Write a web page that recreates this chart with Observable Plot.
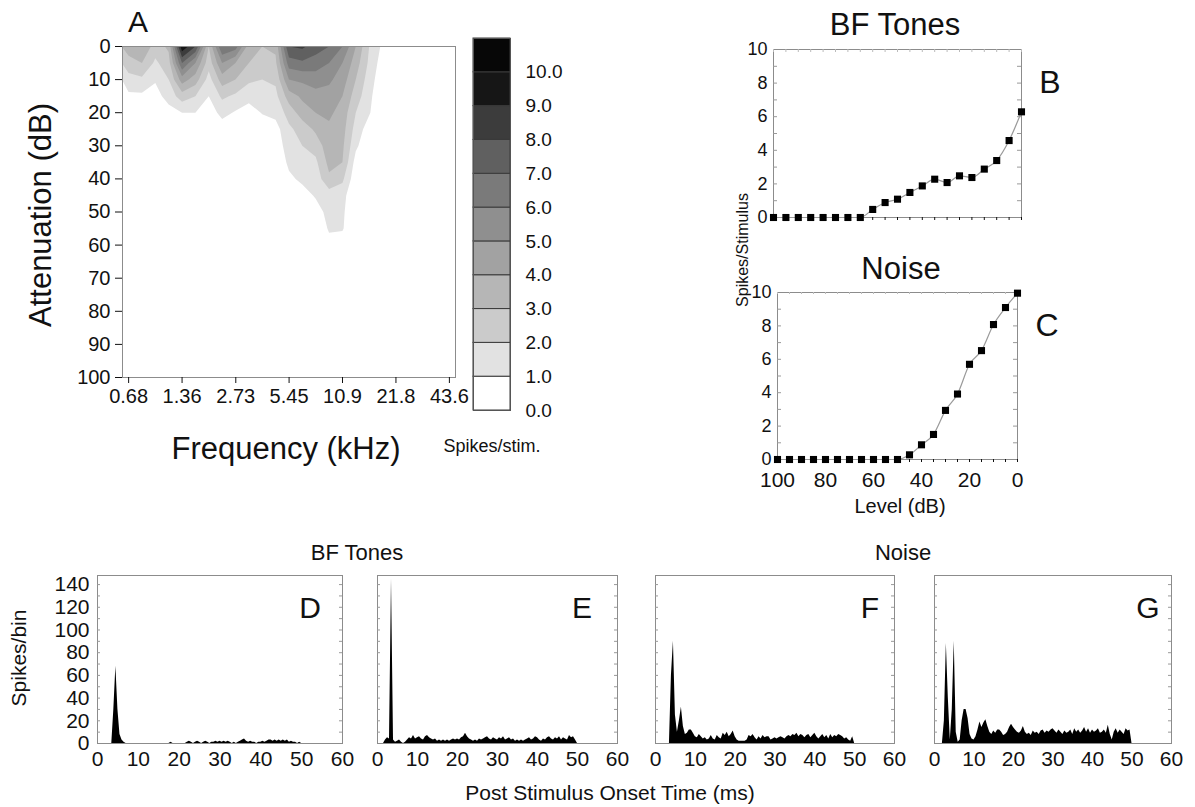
<!DOCTYPE html>
<html><head><meta charset="utf-8">
<script src="https://cdn.jsdelivr.net/npm/d3@7"></script>
<script src="https://cdn.jsdelivr.net/npm/@observablehq/plot@0.6"></script>
<style>
body{margin:0;background:#fff;}
#root{position:relative;width:1195px;height:807px;overflow:hidden;font-family:'Liberation Sans',Arial,Helvetica,sans-serif;color:#111;background:#fff;}
.t{position:absolute;white-space:nowrap;line-height:1;}
</style></head><body><div id="root"></div>
<script>
// ---------------- DATA ----------------
// Panel A: response area (spikes/stimulus) on a quarter-octave x 5 dB grid
const gridFreqs = [0.68,0.81,0.96,1.14,1.36,1.62,1.92,2.29,2.72,3.23,3.85,4.57,5.44,6.47,7.69,9.15,10.88,12.94,15.39,18.3,21.76];
const gridAtten = [0,5,10,15,20,25,30,35,40,45,50,55,60,65];
const tuning = [
 [3.5,4.0,2.5,3.2,9.8,8.0,3.0,7.0,6.5,3.5,3.0,3.2,8.0,8.2,7.5,7.0,6.0,4.0,2.0,0.8,0],
 [2.6,3.0,1.8,2.6,7.0,5.0,2.4,5.0,4.0,3.0,2.6,2.8,6.5,6.8,6.5,6.0,5.0,3.5,1.8,0.5,0],
 [1.6,1.8,1.1,2.0,4.5,3.5,1.6,3.5,3.0,2.2,2.0,2.2,5.0,5.2,5.5,5.2,4.5,3.0,1.5,0.3,0],
 [0.8,0.8,0.6,1.4,2.5,2.0,1.0,2.2,1.8,1.3,1.5,1.7,3.5,4.2,4.6,4.6,4.0,2.5,1.3,0,0],
 [0.4,0.3,0.2,0.6,1.0,1.0,0.5,1.3,0.9,0.6,1.05,1.3,2.4,3.5,4.0,4.2,3.6,2.0,1.1,0,0],
 [0,0,0,0.2,0.4,0.3,0.2,0.5,0.3,0.2,0.5,0.6,1.8,2.4,3.2,3.8,3.4,1.6,0.5,0,0],
 [0,0,0,0,0,0,0,0,0,0,0.3,0.4,1.5,2.0,2.4,3.6,3.2,1.2,0.2,0,0],
 [0,0,0,0,0,0,0,0,0,0,0,0.2,1.2,1.5,1.8,3.3,3.0,0.6,0,0,0],
 [0,0,0,0,0,0,0,0,0,0,0,0,0.8,1.2,1.4,2.8,2.2,0.3,0,0,0],
 [0,0,0,0,0,0,0,0,0,0,0,0,0.3,0.6,1.1,1.5,1.4,0,0,0,0],
 [0,0,0,0,0,0,0,0,0,0,0,0,0,0.2,0.6,1.3,1.2,0,0,0,0],
 [0,0,0,0,0,0,0,0,0,0,0,0,0,0,0.3,1.1,1.1,0,0,0,0],
 [0,0,0,0,0,0,0,0,0,0,0,0,0,0,0,0.7,0.4,0,0,0,0],
 [0,0,0,0,0,0,0,0,0,0,0,0,0,0,0,0,0,0,0,0,0]
];
const freqTicks = [0.68,1.36,2.73,5.45,10.9,21.8,43.6];
const freqDomain = [0.628, 47.2];
const attenTicks = [0,10,20,30,40,50,60,70,80,90,100];
const levelThresholds = [1,2,3,4,5,6,7,8,9,10];
const bandColors = ["#ffffff","#e2e2e2","#cbcbcb","#b6b6b6","#a2a2a2","#8f8f8f","#7a7a7a","#606060","#3c3c3c","#161616","#070707"];
const cbLower = [0,1,2,3,4,5,6,7,8,9,10];
const cbUpper = [1,2,3,4,5,6,7,8,9,10,11];
const cbTicks = [0,1,2,3,4,5,6,7,8,9,10];

// Panels B and C: rate-level functions
const levelDb = [100,95,90,85,80,75,70,65,60,55,50,45,40,35,30,25,20,15,10,5,0];
const bfTones = [0,0,0,0,0,0,0,0,0.48,0.89,1.09,1.49,1.88,2.28,2.08,2.48,2.38,2.88,3.39,4.58,6.29];
const noise   = [0,0,0,0,0,0,0,0,0,0,0,0.28,0.88,1.5,2.94,3.92,5.7,6.52,8.08,9.1,9.96];
const rateTicksY = [0,2,4,6,8,10];
const levelTicksX = [100,80,60,40,20,0];

// Panels D-G: PSTHs, 0.5 ms bins from 0 to 50 ms
const psthD = [0,0,0,0,0,0,0,0,30,68, 30,8,3,1,0,0,0,0,0,0, 0,0,0,0,0,0,0,0,0,0, 0,0,0,0,0,0,1,0,0,0,
  0,0,0,0,1,2,1,0,1,2, 1,0,1,2,1,0,1,1,2,1, 2,1,2,1,2,1,0,1,0,1, 2,3,4,2,1,2,1,1,0,1,
  1,2,1,2,3,3,2,3,2,3, 2,3,2,3,1,2,1,1,0,1, 0];
const psthE = [0,0,0,0,3,5,4,145,3,1, 2,3,1,0,1,3,5,4,7,4, 5,6,4,3,6,7,5,4,3,4, 2,3,2,3,2,3,2,3,4,3,
  4,3,5,6,9,6,4,3,2,3, 2,4,3,4,5,6,4,3,5,4, 3,5,4,6,3,4,5,3,4,2, 3,2,3,2,3,4,5,3,4,6,
  5,3,2,4,3,5,6,4,3,5, 4,6,3,5,4,3,7,5,6,3, 0];
const psthF = [0,0,0,0,0,0,0,0,60,90, 25,10,20,32,15,8,9,12,12,9, 6,5,8,6,4,5,3,4,7,4, 3,7,5,4,9,7,10,6,8,11,
  6,3,2,2,2,2,3,7,6,8, 5,3,6,4,7,5,6,6,3,4, 5,4,5,6,5,4,6,7,6,8, 7,9,6,8,7,5,7,8,5,7,
  9,6,4,6,8,5,7,4,8,5, 7,6,8,7,6,4,5,3,2,6, 0];
const psthG = [0,0,0,0,0,20,88,40,3,30, 90,10,1,3,20,30,30,22,8,4, 3,6,12,19,14,18,21,15,10,8, 11,9,12,12,10,7,8,10,14,17,
  14,12,10,9,11,15,10,8,9,7, 11,9,10,8,11,12,9,11,10,12, 13,11,9,12,10,8,11,9,10,12, 8,13,10,12,9,11,14,10,13,9,
  12,10,11,13,9,10,12,9,16,8, 3,10,13,9,12,10,8,13,11,12, 0];
const timeTicks = [0,10,20,30,40,50,60];
const spikeTicks = [0,20,40,60,80,100,120,140];

// ---------------- HELPERS ----------------
const FONT = "'Liberation Sans', Arial, Helvetica, sans-serif";
const root = document.getElementById("root");
function place(node, left, top){ node.style.position="absolute"; node.style.left=left+"px"; node.style.top=top+"px"; root.appendChild(node); }
function label(text, cx, cy, size, rot=0){
  const d=document.createElement("div"); d.className="t"; d.textContent=text;
  d.style.left=cx+"px"; d.style.top=cy+"px"; d.style.fontSize=size+"px";
  d.style.transform=`translate(-50%,-50%) rotate(${rot}deg)`; root.appendChild(d);
}
function innerTicksY(vals, fw, len, color){
  return [Plot.tickY(vals,{y:d=>d, insetRight:fw-len, stroke:color}), Plot.tickY(vals,{y:d=>d, insetLeft:fw-len, stroke:color})];
}
const colorScale = {type:"threshold", domain: levelThresholds, range: bandColors};
const frameColor = "#8c8c8c";
const oct = f => Math.log2(f / freqTicks[0]);   // octaves above the first tick

// ---------------- PANEL A ----------------
{
  const r = gridFreqs[1]/gridFreqs[0];
  const xLo = oct(gridFreqs[0]/Math.sqrt(r)), xHi = oct(gridFreqs[gridFreqs.length-1]*Math.sqrt(r));
  const dA = gridAtten[1]-gridAtten[0];
  const svg = Plot.plot({
    width: 470, height: 420, marginLeft: 122, marginTop: 46, marginRight: 15, marginBottom: 43,
    style: {fontFamily: FONT, background: "transparent", color: "#111", overflow: "visible"},
    x: {domain: freqDomain.map(oct), axis: null},
    y: {domain: [0, 100], reverse: true, axis: null},
    color: colorScale,
    marks: [
      Plot.contour(tuning.flat(), {width: gridFreqs.length, height: gridAtten.length,
        x1: xLo, x2: xHi, y1: gridAtten[0]-dA/2, y2: gridAtten[gridAtten.length-1]+dA/2,
        fill: Plot.identity, thresholds: levelThresholds, clip: true}),
      Plot.frame({stroke: frameColor}),
      Plot.axisY({ticks: attenTicks, tickSize: 7, tickPadding: 5, fontSize: 20, label: null}),
      Plot.axisX({ticks: freqTicks.map(oct), tickFormat: d => String(freqTicks[Math.round(d)]), tickSize: 6, tickPadding: 5, fontSize: 20, label: null})
    ]
  });
  place(svg, 0, 0);
}
// colour bar
{
  const bands = cbLower.map((lo,i)=>({lo, hi: cbUpper[i]}));
  const svg = Plot.plot({
    width: 110, height: 390, marginLeft: 13, marginRight: 60, marginTop: 8, marginBottom: 10,
    style: {fontFamily: FONT, background: "transparent", color: "#111", overflow: "visible"},
    x: {axis: null}, y: {domain: [0, 11], axis: null},
    color: colorScale,
    marks: [
      Plot.rect(bands, {y1: "lo", y2: "hi", fill: "lo", stroke: "#3a3a3a", strokeWidth: 1}),
      Plot.frame({stroke: "#555"}),
      Plot.axisY({anchor: "right", ticks: cbTicks, tickFormat: d => d.toFixed(1), tickSize: 0, tickPadding: 15, fontSize: 19, label: null})
    ]
  });
  place(svg, 460, 30);
}
label("A", 138, 22, 30);
label("Attenuation (dB)", 40, 215, 31, -90);
label("Frequency (kHz)", 286, 448, 31);
label("Spikes/stim.", 492, 446, 18);

// ---------------- PANELS B, C ----------------
function rateLevel(values, showX, w, h, ml, mt, mr, mb){
  const fw = w-ml-mr;
  const pts = levelDb.map((L,i)=>({L, v: values[i]}));
  return Plot.plot({
    width: w, height: h, marginLeft: ml, marginTop: mt, marginRight: mr, marginBottom: mb,
    style: {fontFamily: FONT, background: "transparent", color: "#111", overflow: "visible"},
    x: {domain: [100, 0], axis: null}, y: {domain: [0, 10], axis: null},
    marks: [
      Plot.frame({stroke: frameColor}),
      ...innerTicksY([1,2,3,4,5,6,7,8,9], fw, 4, "#999"),
      Plot.tickX(levelDb, {x: d => d, insetBottom: 165, stroke: "#bbb"}),
      Plot.axisX({ticks: levelDb, tickSize: 3, tickFormat: () => "", label: null}),
      Plot.axisY({ticks: rateTicksY, tickSize: 0, tickPadding: 6, fontSize: 18, label: null}),
      showX ? Plot.axisX({ticks: levelTicksX, tickSize: 0, tickPadding: 13, fontSize: 21, label: null}) : null,
      Plot.line(pts, {x: "L", y: "v", stroke: "#9a9a9a", strokeWidth: 1.2, curve: "monotone-x"}),
      Plot.dot(pts, {x: "L", y: "v", symbol: "square", r: 4, fill: "#000", stroke: "none"})
    ]
  });
}
place(rateLevel(bfTones, false, 300, 199, 33, 19, 19, 12), 740, 30);
place(rateLevel(noise, true, 300, 240, 37, 12, 23, 61), 740, 280);
label("BF Tones", 895, 24, 31);
label("B", 1050, 82, 32);
label("Noise", 901, 268, 31);
label("C", 1047, 325, 32);
label("Spikes/Stimulus", 743, 250, 16, -90);
label("Level (dB)", 900, 506, 20);

// ---------------- PANELS D-G ----------------
function psth(values, showY, left, fw){
  const ml = showY ? 47 : 17, mr = 16, mt = 15, mb = 30, fh = 168;
  const data = values.map((v,i)=>({t: i*0.5, v}));
  const svg = Plot.plot({
    width: ml+fw+mr, height: mt+fh+mb, marginLeft: ml, marginRight: mr, marginTop: mt, marginBottom: mb,
    style: {fontFamily: FONT, background: "transparent", color: "#111", overflow: "visible"},
    x: {domain: [0, 60], axis: null}, y: {domain: [0, 148], axis: null},
    marks: [
      Plot.areaY(data, {x: "t", y: "v", fill: "#000", curve: "linear", clip: true}),
      Plot.frame({stroke: frameColor}),
      ...innerTicksY([10,20,30,40,50,60,70,80,90,100,110,120,130,140], fw, 3, "#999"),
      showY ? Plot.axisY({ticks: spikeTicks, tickSize: 0, tickPadding: 8, fontSize: 21, label: null}) : null,
      Plot.axisX({ticks: timeTicks, tickSize: 0, tickPadding: 8, fontSize: 21, label: null})
    ]
  });
  place(svg, left - ml, 560);
}
psth(psthD, true, 97, 245);
psth(psthE, false, 377, 240);
psth(psthF, false, 655, 239);
psth(psthG, false, 934, 237);
label("D", 310, 608, 30);
label("E", 582, 608, 30);
label("F", 870, 608, 30);
label("G", 1148, 608, 30);
label("BF Tones", 357, 553, 22);
label("Noise", 903, 553, 22);
label("Spikes/bin", 18, 658, 21, -90);
label("Post Stimulus Onset Time (ms)", 610, 792, 21);
</script></body></html>
